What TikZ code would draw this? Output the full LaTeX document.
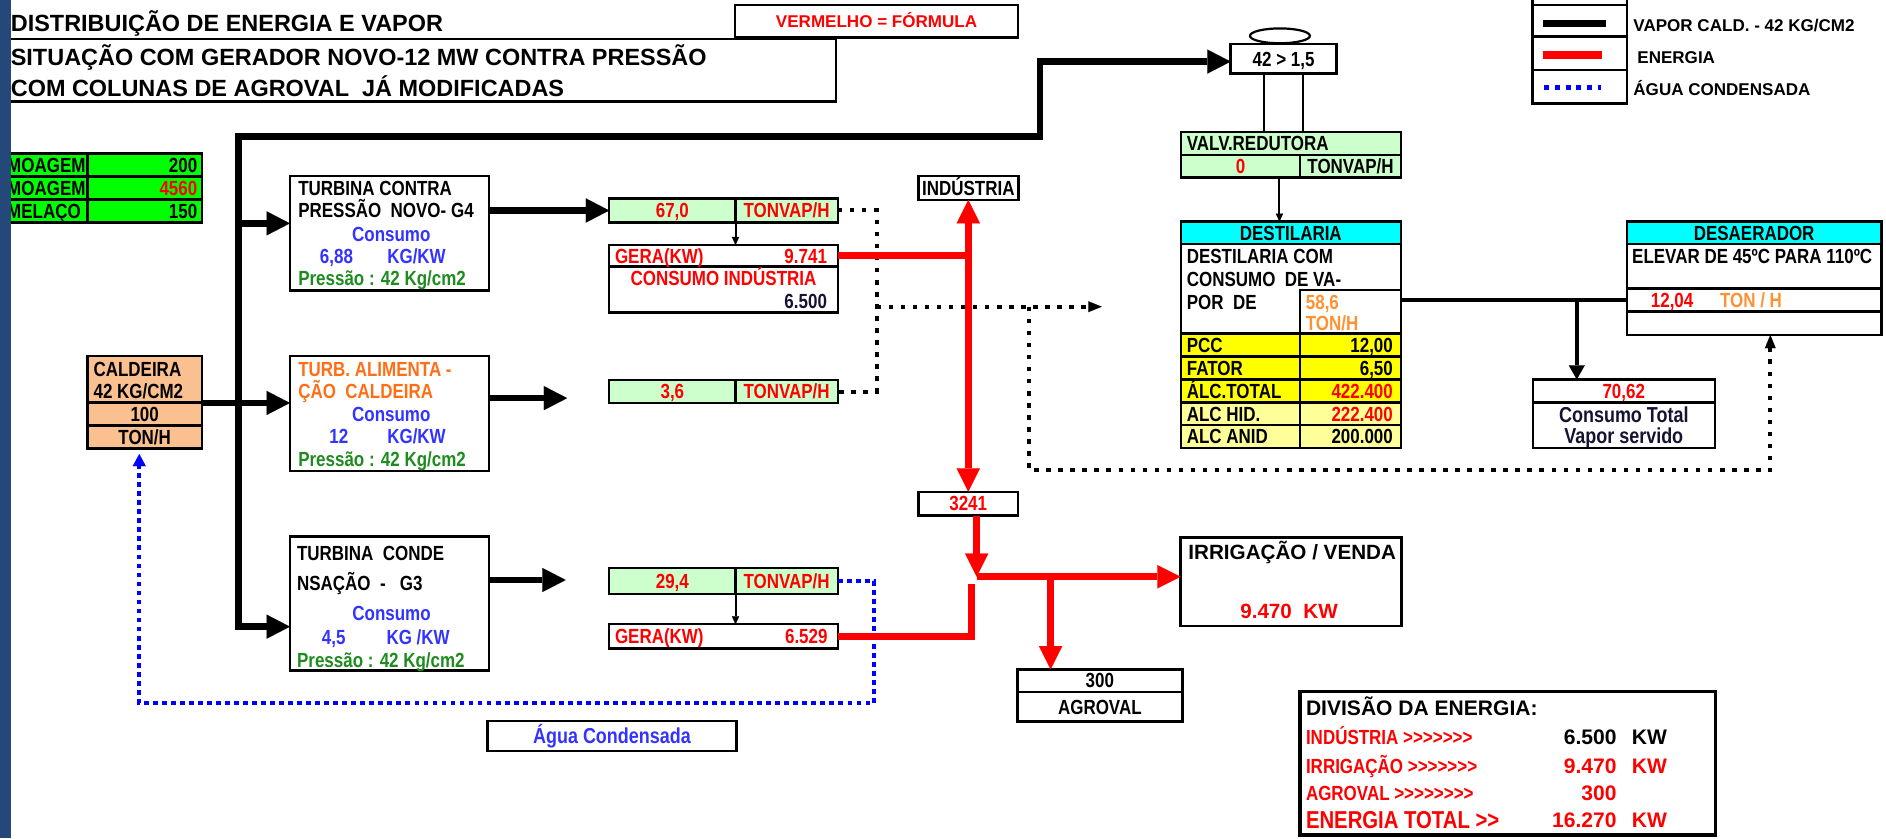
\documentclass[tikz,border=0pt]{standalone}
\usepackage{fontspec}
\setmainfont{Liberation Sans}
\newfontfamily\condf{Liberation Sans Bold}[FakeStretch=0.83]
\newfontfamily\regf{Liberation Sans Bold}
\usetikzlibrary{arrows.meta,shapes.geometric,calc}
\newcommand\bodyf{\condf\fontsize{10.2}{12}\selectfont}
\newcommand\bigbf{\condf\fontsize{10.8}{12}\selectfont}
\newcommand\lgf{\regf\fontsize{8.5}{10}\selectfont}
\newcommand\ttlf{\regf\fontsize{11.7}{14}\selectfont}
\newcommand\irrf{\regf\fontsize{10.3}{12}\selectfont}
\newcommand\divf{\regf\fontsize{10.5}{12}\selectfont}
\newcommand\totf{\condf\fontsize{12.2}{14}\selectfont}
\definecolor{barblue}{RGB}{36,72,120}
\definecolor{txtblue}{RGB}{51,51,255}
\definecolor{txtgreen}{RGB}{30,140,30}
\definecolor{txtorange}{RGB}{255,110,20}
\definecolor{txtorange2}{RGB}{255,145,50}
\definecolor{lgreen}{RGB}{204,255,204}
\definecolor{bgreen}{RGB}{0,255,0}
\definecolor{peach}{RGB}{250,192,144}
\definecolor{cyanf}{RGB}{0,255,255}
\definecolor{yel}{RGB}{255,255,0}
\definecolor{lyel}{RGB}{255,255,153}
\definecolor{navy}{RGB}{20,20,50}
\newcommand{\rb}[6][]{%
  \node[bx,#1,minimum width={((#4)-(#2))*0.6pt},minimum height={((#5)-(#3))*0.6pt}] (#6) at ({((#2)+(#4))/2},{((#3)+(#5))/2}) {};}
\tikzset{
  bx/.style={draw=black, line width=1.2pt, inner sep=0pt, outer sep=0pt, rectangle},
  tb/.style={inner sep=0pt, outer sep=0pt, text height=7.3pt, text depth=0pt, font=\bodyf},
  tbig/.style={inner sep=0pt, outer sep=0pt, text height=7.7pt, text depth=0pt, font=\bigbf},
  lg/.style={inner sep=0pt, outer sep=0pt, text height=6.09pt, text depth=0pt, font=\lgf},
  ttl/.style={inner sep=0pt, outer sep=0pt, text height=8.38pt, text depth=0pt, font=\ttlf},
  irrt/.style={inner sep=0pt, outer sep=0pt, text height=7.37pt, text depth=0pt, font=\irrf},
  divt/.style={inner sep=0pt, outer sep=0pt, text height=7.52pt, text depth=0pt, font=\divf},
  tott/.style={inner sep=0pt, outer sep=0pt, text height=8.7pt, text depth=0pt, font=\totf},
  steam/.style={line width=3.3pt, draw=black},
  energy/.style={line width=3.6pt, draw=red},
  vline/.style={line width=2.1pt, draw=black},
  thinl/.style={line width=1pt, draw=black},
  blkdot/.style={line width=2pt, draw=black, dash pattern=on 2.3pt off 3.7pt},
  bludot/.style={line width=2pt, draw=blue, dash pattern=on 2.4pt off 2.1pt},
  steamtip/.tip={Triangle[length=11.6pt,width=12pt,line width=0.01pt]},
  redtip/.tip={Triangle[length=11.6pt,width=11.6pt,line width=0.01pt]},
  dottip/.tip={Triangle[length=6.6pt,width=5.4pt,line width=0.01pt]},
  thintip/.tip={Triangle[length=4pt,width=3.6pt,line width=0.01pt]},
  medtip/.tip={Triangle[length=7pt,width=8pt,line width=0.01pt]},
  bluetip/.tip={Triangle[length=6pt,width=6.5pt,line width=0.01pt]},
}
\begin{document}
\begin{tikzpicture}[x=0.6pt,y=-0.6pt,line join=miter]
\useasboundingbox (0,0) rectangle (1568,697);
\fill[white] (0,0) rectangle (1568,697);

% ---------- title ----------
\node[ttl,anchor=west] (tt1) at (9,19.5) {DISTRIBUIÇÃO DE ENERGIA E VAPOR};
\node[ttl,anchor=west] (tt2) at (9,47.5) {SITUAÇÃO COM GERADOR NOVO-12 MW CONTRA PRESSÃO};
\node[ttl,anchor=west] (tt3) at (9,73.4) {COM COLUNAS DE AGROVAL\ \ JÁ MODIFICADAS};
\rb[line width=1.3pt]{4}{32.5}{695}{84.5}{titlebox}
\rb[line width=1.3pt]{611}{4.2}{846.5}{31}{verm}
\node[lg,text=red] (vermt) at (verm.center) {VERMELHO = FÓRMULA};

% ---------- legend ----------
\rb{1274}{-3}{1352.4}{4.2}{lgA}
\rb{1274}{4.2}{1352.4}{30.5}{lgB}
\rb{1274}{30.5}{1352.4}{58.2}{lgC}
\rb{1274}{58.2}{1352.4}{85.9}{lgD}
\draw[line width=3.6pt] (1283,19.4) -- (1335,19.4);
\draw[red,line width=3.6pt] (1283,45.7) -- (1331.6,45.7);
\draw[blue,line width=2.4pt,dash pattern=on 2.5pt off 2.8pt] (1284,72.9) -- (1331,72.9);
\node[lg,anchor=west] (lgt1) at (1358,20.8) {VAPOR CALD. - 42 KG/CM2};
\node[lg,anchor=west] (lgt2) at (1361.3,47.7) {ENERGIA};
\node[lg,anchor=west] (lgt3) at (1358,74.3) {ÁGUA CONDENSADA};

% ---------- green table ----------
\rb[fill=bgreen]{-3}{127.5}{72.8}{146.7}{mA1}
\rb[fill=bgreen]{72.8}{127.5}{167.8}{146.7}{mA2}
\rb[fill=bgreen]{-3}{146.7}{72.8}{165.9}{mB1}
\rb[fill=bgreen]{72.8}{146.7}{167.8}{165.9}{mB2}
\rb[fill=bgreen]{-3}{165.9}{72.8}{185.1}{mC1}
\rb[fill=bgreen]{72.8}{165.9}{167.8}{185.1}{mC2}
\node[tb,anchor=west] (mAt) at (6,137.1) {MOAGEM};
\node[tb,anchor=east] (mAv) at (164,137.1) {200};
\node[tb,anchor=west] (mBt) at (6,156.3) {MOAGEM};
\node[tb,anchor=east,text=red] (mBv) at (164,156.3) {4560};
\node[tb,anchor=west] (mCt) at (6,175.5) {MELAÇO};
\node[tb,anchor=east] (mCv) at (164,175.5) {150};

% ---------- caldeira ----------
\rb[fill=peach]{72.8}{296}{167.8}{334.5}{cA}
\rb[fill=peach]{72.8}{334.5}{167.8}{353.9}{cB}
\rb[fill=peach]{72.8}{353.9}{167.8}{372.8}{cC}
\node[tb,anchor=west] (cAt1) at (77.8,307) {CALDEIRA};
\node[tb,anchor=west] (cAt2) at (77.8,325.3) {42 KG/CM2};
\node[tb] (cBt) at (cB.center) {100};
\node[tb] (cCt) at (cC.center) {TON/H};

% ---------- turbines ----------
\rb{241}{146.3}{406.3}{241.6}{T1}
\rb{241}{296}{406.3}{391.6}{T2}
\rb{241}{446.2}{406.3}{557.5}{T3}
\node[tb,anchor=west] (T1a) at (248,156.6) {TURBINA CONTRA};
\node[tb,anchor=west] (T1b) at (248,175.1) {PRESSÃO\ \ NOVO- G4};
\node[tb,text=txtblue] (T1c) at (325.3,194.8) {Consumo};
\node[tb,anchor=west,text=txtblue] (T1d) at (266,213.4) {6,88};
\node[tb,anchor=west,text=txtblue] (T1e) at (322,213.4) {KG/KW};
\node[tb,anchor=west,text=txtgreen] (T1f) at (248,231.4) {Pressão : 42 Kg/cm2};

\node[tb,anchor=west,text=txtorange] (T2a) at (248,307) {TURB. ALIMENTA -};
\node[tb,anchor=west,text=txtorange] (T2b) at (248,325.6) {ÇÃO\ \ CALDEIRA};
\node[tb,text=txtblue] (T2c) at (325.3,344.2) {Consumo};
\node[tb,anchor=west,text=txtblue] (T2d) at (273.8,363) {12};
\node[tb,anchor=west,text=txtblue] (T2e) at (322,363) {KG/KW};
\node[tb,anchor=west,text=txtgreen] (T2f) at (248,381.6) {Pressão : 42 Kg/cm2};

\node[tb,anchor=west] (T3a) at (247,460) {TURBINA\ \ CONDE};
\node[tb,anchor=west] (T3b) at (247,485) {NSAÇÃO\ \ -\ \ \ G3};
\node[tb,text=txtblue] (T3c) at (325.5,509.9) {Consumo};
\node[tb,anchor=west,text=txtblue] (T3d) at (267.6,529.8) {4,5};
\node[tb,anchor=west,text=txtblue] (T3e) at (321.4,529.8) {KG /KW};
\node[tb,anchor=west,text=txtgreen] (T3f) at (247,548.7) {Pressão : 42 Kg/cm2};

% ---------- green steam boxes ----------
\rb[fill=lgreen]{506.5}{165}{611.5}{185}{G1a}
\rb[fill=lgreen]{611.5}{165}{696.5}{185}{G1b}
\rb[fill=lgreen]{506.5}{316}{611.5}{335}{G2a}
\rb[fill=lgreen]{611.5}{316}{696.5}{335}{G2b}
\rb[fill=lgreen]{506.5}{472}{611.5}{494}{G3a}
\rb[fill=lgreen]{611.5}{472}{696.5}{494}{G3b}
\node[tb,text=red] (G1at) at (G1a.center) {67,0};
\node[tb,text=red] (G1bt) at (G1b.center) {TONVAP/H};
\node[tb,text=red] (G2at) at (G2a.center) {3,6};
\node[tb,text=red] (G2bt) at (G2b.center) {TONVAP/H};
\node[tb,text=red] (G3at) at (G3a.center) {29,4};
\node[tb,text=red] (G3bt) at (G3b.center) {TONVAP/H};

% ---------- generation boxes ----------
\rb{506.5}{203.7}{696.5}{221.7}{GE1a}
\rb{506.5}{221.7}{696.5}{259.9}{GE1b}
\rb{506.5}{519}{696.5}{539}{GE2}
\node[tb,anchor=west,text=red] (GE1t1) at (511.3,212.7) {GERA(KW)};
\node[tb,anchor=east,text=red] (GE1t2) at (687.5,212.7) {9.741};
\node[tb,text=red] (GE1t3) at (601.5,231.4) {CONSUMO INDÚSTRIA};
\node[tb,anchor=east,text=navy] (GE1t4) at (687.5,250.8) {6.500};
\node[tb,anchor=west,text=red] (GE2t1) at (511.3,529) {GERA(KW)};
\node[tb,anchor=east,text=red] (GE2t2) at (688,529) {6.529};
\draw[thinl,-{thintip}] (G1b.south west) -- (G1b.south west |- GE1a.north);
\draw[thinl,-{thintip}] (G3b.south west) -- (G3b.south west |- GE2.north);

% ---------- energy boxes ----------
\rb{763.5}{146.3}{846.6}{166.3}{ind}
\node[tb] (indt) at (ind.center) {INDÚSTRIA};
\rb{763.5}{408.8}{846.4}{428.7}{n3241}
\node[tb,text=red] (n3241t) at (n3241.center) {3241};
\rb{981.6}{446.8}{1165.3}{520.2}{irr}
\node[irrt,anchor=west] (irrt1) at (988,458.7) {IRRIGAÇÃO / VENDA};
\node[irrt,text=red] (irrt2) at (1071.7,507.7) {9.470\ \ KW};
\rb{845.8}{556.5}{983}{575.1}{AG1}
\rb{845.8}{575.1}{983}{600}{AG2}
\node[tb] (AG1t) at (AG1.center) {300};
\node[tb] (AG2t) at (AG2.center) {AGROVAL};

% ---------- reducing valve ----------
\node[draw,ellipse,line width=1.1pt,inner sep=0pt,minimum width=29.9pt,minimum height=7.4pt] (ell) at (1064.1,29.8) {};
\rb{1023.1}{36.6}{1111.2}{61}{box42}
\node[tb] (box42t) at (box42.center) {42 > 1,5};
\rb[fill=lgreen]{981.7}{109.5}{1164.6}{128.9}{VA}
\rb[fill=lgreen]{981.7}{128.9}{1081}{147.5}{VB1}
\rb[fill=lgreen]{1081}{128.9}{1164.6}{147.5}{VB2}
\node[tb,anchor=west] (VAt) at (986.7,119.2) {VALV.REDUTORA};
\node[tb,text=red] (VB1t) at (VB1.center) {0};
\node[tb] (VB2t) at (VB2.center) {TONVAP/H};
\coordinate (lx1) at (1050.8,0);
\coordinate (lx2) at (1083.5,0);
\draw[thinl] (box42.south -| lx1) -- (VA.north -| lx1);
\draw[thinl] (box42.south -| lx2) -- (VA.north -| lx2);

% ---------- destilaria ----------
\rb[fill=cyanf]{981.7}{184.3}{1164.6}{202.9}{DH}
\rb{981.7}{202.9}{1164.6}{277.2}{DW}
\rb{1081}{241.1}{1164.6}{277.2}{D58}
\node[tb] (DHt) at (DH.center) {DESTILARIA};
\node[tb,anchor=west] (DWt1) at (986.7,213.4) {DESTILARIA COM};
\node[tb,anchor=west] (DWt2) at (986.7,232.4) {CONSUMO\ \ DE VA-};
\node[tb,anchor=west] (DWt3) at (986.7,251) {POR\ \ DE};
\node[tb,anchor=west,text=txtorange2] (D58t1) at (1085.7,251) {58,6};
\node[tb,anchor=west,text=txtorange2] (D58t2) at (1085.7,269) {TON/H};
\rb[fill=yel]{981.7}{277.2}{1081}{296.5}{Y1a}
\rb[fill=yel]{1081}{277.2}{1164.6}{296.5}{Y1b}
\rb[fill=yel]{981.7}{296.5}{1081}{315.4}{Y2a}
\rb[fill=yel]{1081}{296.5}{1164.6}{315.4}{Y2b}
\rb[fill=yel]{981.7}{315.4}{1081}{334.8}{Y3a}
\rb[fill=yel]{1081}{315.4}{1164.6}{334.8}{Y3b}
\rb[fill=lyel]{981.7}{334.8}{1081}{353.3}{Y4a}
\rb[fill=lyel]{1081}{334.8}{1164.6}{353.3}{Y4b}
\rb[fill=lyel]{981.7}{353.3}{1081}{372.7}{Y5a}
\rb[fill=lyel]{1081}{353.3}{1164.6}{372.7}{Y5b}
\node[tb,anchor=west] (Y1t) at (986.7,286.8) {PCC};
\node[tb,anchor=east] (Y1v) at (1158,286.8) {12,00};
\node[tb,anchor=west] (Y2t) at (986.7,305.9) {FATOR};
\node[tb,anchor=east] (Y2v) at (1158,305.9) {6,50};
\node[tb,anchor=west] (Y3t) at (986.7,325.1) {ÁLC.TOTAL};
\node[tb,anchor=east,text=red] (Y3v) at (1158,325.1) {422.400};
\node[tb,anchor=west] (Y4t) at (986.7,344) {ALC HID.};
\node[tb,anchor=east,text=red] (Y4v) at (1158,344) {222.400};
\node[tb,anchor=west] (Y5t) at (986.7,363) {ALC ANID};
\node[tb,anchor=east] (Y5v) at (1158,363) {200.000};
\coordinate (ax) at (1063.7,0);
\draw[thinl,-{thintip}] (VB1.south -| ax) -- (DH.north -| ax);

% ---------- desaerador ----------
\rb[fill=cyanf]{1352.5}{184.3}{1564.2}{202.9}{RH}
\rb{1352.5}{202.9}{1564.2}{239.7}{R1}
\rb{1352.5}{239.7}{1564.2}{259.1}{R2}
\rb{1352.5}{259.1}{1564.2}{278.5}{R3}
\node[tb] (RHt) at (RH.center) {DESAERADOR};
\node[tb,anchor=west] (R1t) at (1357,213.4) {ELEVAR DE 45ºC PARA 110ºC};
\node[tb,anchor=west,text=red] (R2t1) at (1372.5,249.4) {12,04};
\node[tb,anchor=west,text=txtorange2] (R2t2) at (1430,249.4) {TON / H};

\rb{1274.3}{315.4}{1425.6}{334.8}{C7a}
\rb{1274.3}{334.8}{1425.6}{372.7}{C7b}
\node[tb,text=red] (C7t1) at (C7a.center) {70,62};
\node[tbig,text=navy] (C7t2) at (1350,344.5) {Consumo Total};
\node[tbig,text=navy] (C7t3) at (1350,362.5) {Vapor servido};
\draw[vline] (R2.west -| D58.east) -- (R2.west);
\coordinate (bx1) at (1310.9,249.4);
\draw[vline,-{medtip}] (bx1) -- (bx1 |- C7a.north);

% ---------- condensed water ----------
\rb{405.4}{599.4}{612.2}{624.3}{AQ}
\node[tbig,text=txtblue] (AQt) at (AQ.center) {Água Condensada};

% ---------- division ----------
\rb[line width=1.8pt]{1080.7}{575}{1426.1}{694.2}{DV}
\node[divt,anchor=west] (DVh) at (1085.8,588.9) {DIVISÃO DA ENERGIA:};
\node[tb,anchor=west,text=red] (DV1) at (1085.8,613) {INDÚSTRIA >>>>>>>};
\node[tb,anchor=west,text=red] (DV2) at (1085.8,636.8) {IRRIGAÇÃO >>>>>>>};
\node[tb,anchor=west,text=red] (DV3) at (1085.8,659.5) {AGROVAL >>>>>>>>};
\node[tott,anchor=west,text=red] (DV4) at (1085.8,681.7) {ENERGIA TOTAL >>};
\node[divt,anchor=east] (DV1v) at (1344,613) {6.500};
\node[divt,anchor=east,text=red] (DV2v) at (1344,636.8) {9.470};
\node[divt,anchor=east,text=red] (DV3v) at (1344,659.5) {300};
\node[divt,anchor=east,text=red] (DV4v) at (1344,681.7) {16.270};
\node[divt,anchor=west] (DV1k) at (1356.8,613) {KW};
\node[divt,anchor=west,text=red] (DV2k) at (1356.8,636.8) {KW};
\node[divt,anchor=west,text=red] (DV4k) at (1356.8,681.7) {KW};

% ---------- steam connectors ----------
\coordinate (hb) at (198.4,521);
\coordinate (ht) at (198.4,113.6);
\coordinate (hj) at (864.6,113.6);
\coordinate (ha) at (864.6,51.2);
\draw[steam,{steamtip}-{steamtip}] (T3.west |- hb) -- (hb) -- (ht) -- (hj) -- (ha) -- (ha -| box42.west);
\coordinate (j1) at (198.4,185.7);
\draw[steam,-{steamtip}] (j1) -- (j1 -| T1.west);
\coordinate (j2) at (0,335);
\draw[steam,-{steamtip}] (j2 -| cB.east) -- (j2 -| T2.west);
\draw[steam,-{steamtip}] (T1.east |- G1a.west) -- (G1a.west);
\coordinate (o2) at (471.5,331);
\draw[steam,-{steamtip}] (o2 -| T2.east) -- (o2);
\coordinate (o3) at (470.3,482.2);
\draw[steam,-{steamtip}] (o3 -| T3.east) -- (o3);

% ---------- dotted steam ----------
\coordinate (dv1) at (728.8,0);
\draw[blkdot] (G1b.east) -- (G1b.east -| dv1) -- (G2b.east -| dv1) -- (G2b.east);
\coordinate (dh1) at (728.8,255);
\coordinate (dh2) at (915.9,255);
\draw[blkdot,-{dottip}] (dh1) -- (dh2);
\coordinate (dd1) at (855.7,255);
\coordinate (dd2) at (855.7,390.8);
\coordinate (dd3) at (1471.8,390.8);
\draw[blkdot,-{dottip}] (dd1) -- (dd2) -- (dd3) -- (dd3 |- R3.south);

% ---------- condensed water line ----------
\coordinate (bv) at (726.7,584.7);
\coordinate (bl) at (115.8,584.7);
\coordinate (bw) at (115.8,377.5);
\draw[bludot,-{bluetip}] (G3b.east) -- (G3b.east -| bv) -- (bv) -- (bl) -- (bw);

% ---------- energy ----------
\coordinate (rv) at (805,0);
\draw[energy] (GE1a.east) -- (GE1a.east -| rv);
\draw[energy,{redtip}-{redtip}] (ind.south -| rv) -- (n3241.north -| rv);
\coordinate (rv2) at (812,0);
\coordinate (rj) at (812,479.5);
\draw[energy,-{redtip}] (n3241.south -| rv2) -- (rj);
\draw[energy,-{redtip}] (rj) -- (rj -| irr.west);
\coordinate (rg) at (807.8,485.5);
\draw[energy] (GE2.east) -- (GE2.east -| rg) -- (rg);
\coordinate (rbr) at (873.5,479.5);
\draw[energy,-{redtip}] (rbr) -- (rbr |- AG1.north);

% ---------- left bar ----------
\fill[barblue] (0,0) rectangle (9,697);
\end{tikzpicture}
\end{document}
